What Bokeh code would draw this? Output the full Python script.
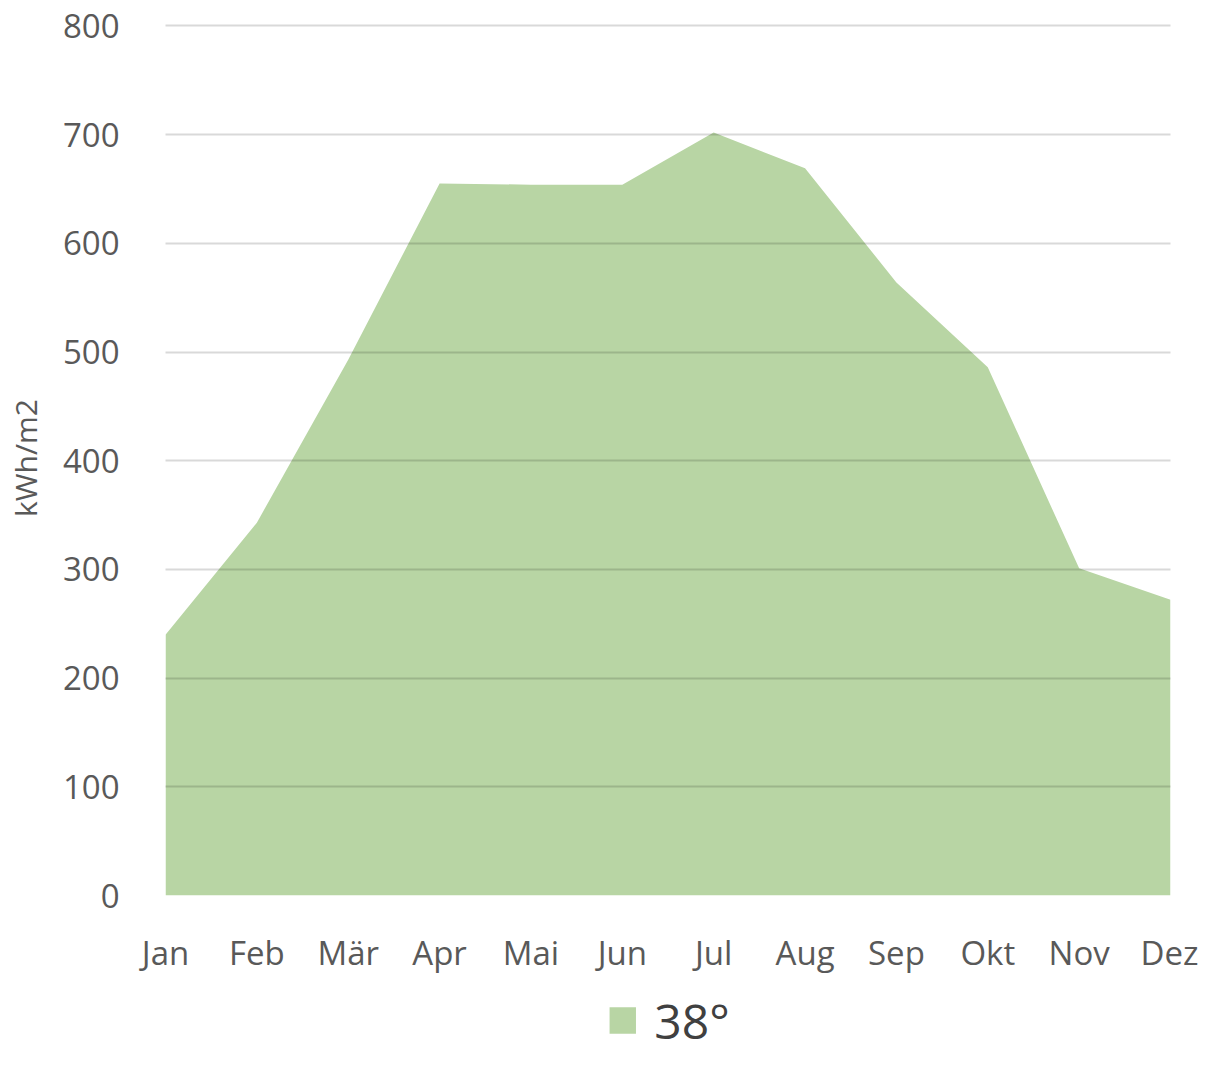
from bokeh.plotting import figure
from bokeh.layouts import column
from bokeh.models import FixedTicker, Legend, LegendItem, Range1d
from bokeh.embed import file_html
from bokeh.resources import INLINE

months = ["Jan", "Feb", "Mär", "Apr", "Mai", "Jun", "Jul", "Aug", "Sep", "Okt", "Nov", "Dez"]
values_38 = [240, 343, 493, 655, 654, 654, 702, 669, 564, 486, 301, 272]
series_name = "38°"
y_ticks = [0, 100, 200, 300, 400, 500, 600, 700, 800]

FONT = "Open Sans"
COLOR = "#b8d5a4"
xs = list(range(len(months)))

p = figure(frame_width=1005, frame_height=875,
           output_backend="svg", toolbar_location=None,
           x_range=Range1d(0, len(months) - 1), y_range=Range1d(0, 805),
           min_border_left=165, min_border_right=28, min_border_top=20, min_border_bottom=90)
p.outline_line_color = None

area = p.varea(x=xs, y1=[0] * len(xs), y2=values_38, fill_color=COLOR)

p.xaxis.ticker = FixedTicker(ticks=xs)
p.xaxis.major_label_overrides = {i: m for i, m in enumerate(months)}
p.yaxis.ticker = FixedTicker(ticks=y_ticks)
for ax in (p.xaxis[0], p.yaxis[0]):
    ax.axis_line_color = None
    ax.major_tick_line_color = None
    ax.minor_tick_line_color = None
    ax.major_label_text_font = FONT
    ax.major_label_text_font_size = "33px"
    ax.major_label_text_color = "#595959"
p.xaxis.major_label_standoff = 28
p.yaxis.major_label_standoff = 40
p.yaxis.axis_label = "kWh/m2"
p.yaxis.axis_label_text_font = FONT
p.yaxis.axis_label_text_font_size = "30px"
p.yaxis.axis_label_text_font_style = "normal"
p.yaxis.axis_label_text_color = "#595959"
p.yaxis.axis_label_standoff = 14

p.xgrid.grid_line_color = None
p.ygrid.grid_line_color = "black"
p.ygrid.grid_line_alpha = 0.15
p.ygrid.grid_line_width = 2
p.ygrid.level = "overlay"

# legend strip below the chart
p2 = figure(width=1198, height=70, output_backend="svg", toolbar_location=None,
            x_range=Range1d(0, 1), y_range=Range1d(0, 1),
            min_border=0)
p2.axis.visible = False
p2.grid.visible = False
p2.outline_line_color = None
legend_glyph = p2.quad(left=[5], right=[6], bottom=[5], top=[6],
                       fill_color=COLOR, line_color=None)
legend = Legend(items=[LegendItem(label=series_name, renderers=[legend_glyph])],
                location="center", orientation="horizontal",
                label_text_font=FONT, label_text_font_size="48px", label_text_color="#404040",
                glyph_width=33, glyph_height=33, border_line_color=None,
                background_fill_alpha=0, padding=0, margin=0, label_standoff=16)
p2.add_layout(legend, "center")

open("out.html", "w").write(file_html(column(p, p2, spacing=0), INLINE))
